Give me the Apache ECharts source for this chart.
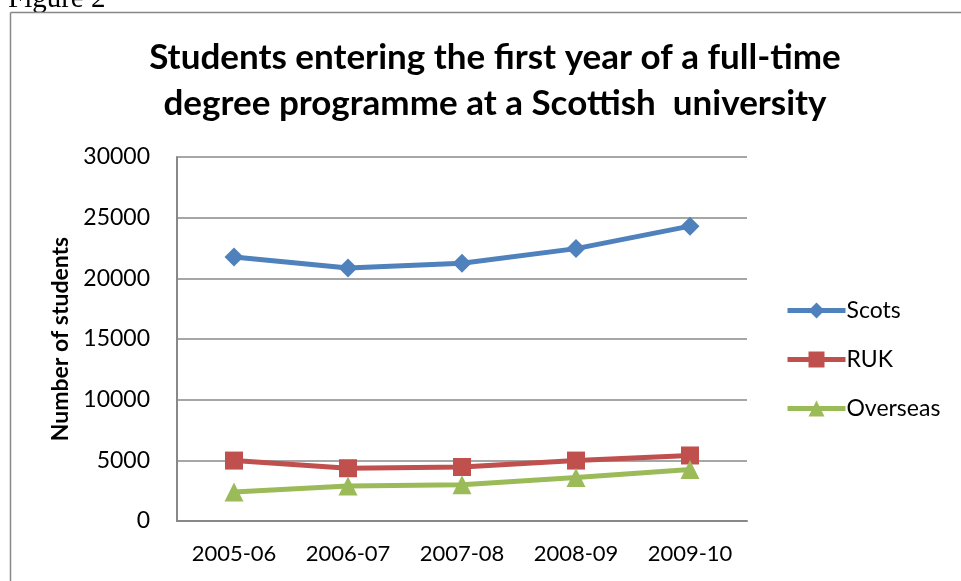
<!DOCTYPE html>
<html><head><meta charset="utf-8">
<script src="https://cdn.jsdelivr.net/npm/echarts@6/dist/echarts.min.js"></script>
<style>html,body{margin:0;padding:0;background:#fff}#c{width:961px;height:581px}</style>
</head><body><div id="c"></div>
<script>
const categories = ['2005-06','2006-07','2007-08','2008-09','2009-10'];
const scots = [21750, 20850, 21250, 22450, 24300];
const ruk = [4980, 4350, 4450, 4980, 5400];
const overseas = [2400, 2880, 2980, 3580, 4250];
const yTicks = {min: 0, max: 30000, interval: 5000};

const chart = echarts.init(document.getElementById('c'));
const font = 'Lato, "Open Sans", sans-serif';
function series(name, data, color, symbol, size) {
  return {name, type: 'line', data, symbol, symbolSize: size, color,
    lineStyle: {width: 5, color}, itemStyle: {color}, animation: false};
}
chart.setOption({
  animation: false,
  graphic: [
    {type: 'text', left: 8, top: -15, style: {text: 'Figure 2', font: '29px "Liberation Serif", serif', fill: '#000'}},
    {type: 'line', shape: {x1: 10.5, y1: 12.5, x2: 961, y2: 12.5}, style: {stroke: '#888', lineWidth: 1.5}},
    {type: 'line', shape: {x1: 10.5, y1: 12.5, x2: 10.5, y2: 581}, style: {stroke: '#888', lineWidth: 1.5}}
  ],
  title: {
    text: 'Students entering the first year of a full-time\ndegree programme at a Scottish  university',
    left: 490, textAlign: 'center', top: 30,
    textStyle: {fontFamily: font, fontWeight: 'bold', fontSize: 35, lineHeight: 46, color: '#000'}
  },
  legend: {
    orient: 'vertical', left: 780, top: 294, itemGap: 26, itemWidth: 58, itemHeight: 20,
    lineStyle: {width: 5},
    textStyle: {fontFamily: font, fontSize: 23, color: '#000', padding: [0,0,0,-4]},
    data: ['Scots','RUK','Overseas']
  },
  grid: {left: 177, right: 214, top: 157, bottom: 60},
  xAxis: {
    type: 'category', data: categories, boundaryGap: true,
    axisLine: {lineStyle: {color: '#888', width: 2}}, axisTick: {show: false},
    axisLabel: {fontFamily: font, fontSize: 22, color: '#000', margin: 22, interval: 0}
  },
  yAxis: {
    type: 'value', min: yTicks.min, max: yTicks.max, interval: yTicks.interval,
    name: 'Number of students', nameLocation: 'middle', nameGap: 97, nameRotate: 90,
    nameTextStyle: {fontFamily: font, fontWeight: 'bold', fontSize: 23, color: '#000'},
    axisLine: {show: true, lineStyle: {color: '#888', width: 2}}, axisTick: {show: false},
    splitLine: {lineStyle: {color: '#888', width: 1.5}},
    axisLabel: {fontFamily: font, fontSize: 23, color: '#000', margin: 27, formatter: v => String(v)}
  },
  series: [
    series('Scots', scots, '#4F81BD', 'diamond', 19),
    series('RUK', ruk, '#C0504D', 'rect', 18),
    series('Overseas', overseas, '#9BBB59', 'triangle', 19)
  ]
});
</script></body></html>
